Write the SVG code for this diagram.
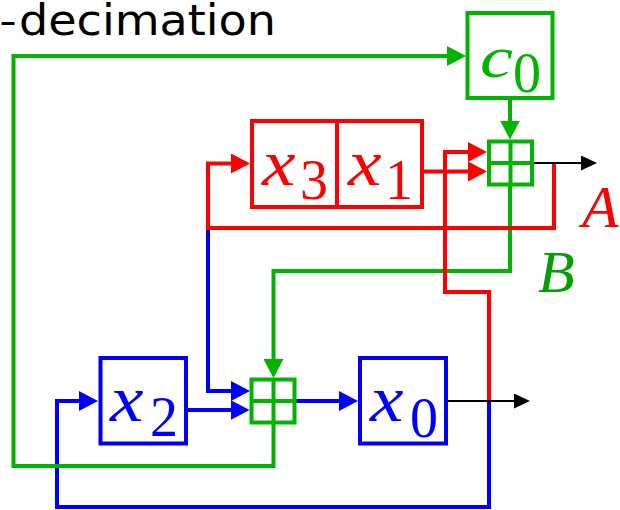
<svg xmlns="http://www.w3.org/2000/svg" width="620" height="510" viewBox="0 0 620 510">
<style>
.box{fill:none;stroke-width:4}
.g{stroke:#00b400}
.r{stroke:#ff0000}
.b{stroke:#0000ff}
.k{stroke:#000000}
.ln{fill:none;stroke-width:4;stroke-linejoin:miter}
.thin{fill:none;stroke-width:2}
.mi{font-family:"Liberation Serif","Times New Roman",serif;font-style:italic;font-size:66px}
.sub{font-family:"Liberation Serif","Times New Roman",serif;font-size:56px}
.lab{font-family:"Liberation Serif","Times New Roman",serif;font-style:italic;font-size:60px}
.title{font-family:"DejaVu Sans",sans-serif;font-size:42px;fill:#000}
</style>
<defs>
<marker id="ag" markerUnits="userSpaceOnUse" viewBox="0 0 19 20" markerWidth="19" markerHeight="20" refX="15" refY="10" orient="auto"><path d="M0,0 L19,10 L0,20 z" fill="#00b400"/></marker>
<marker id="ar" markerUnits="userSpaceOnUse" viewBox="0 0 19 20" markerWidth="19" markerHeight="20" refX="15" refY="10" orient="auto"><path d="M0,0 L19,10 L0,20 z" fill="#ff0000"/></marker>
<marker id="ab" markerUnits="userSpaceOnUse" viewBox="0 0 19 20" markerWidth="19" markerHeight="20" refX="15" refY="10" orient="auto"><path d="M0,0 L19,10 L0,20 z" fill="#0000ff"/></marker>
<marker id="ak" markerUnits="userSpaceOnUse" viewBox="0 0 16 15" markerWidth="16" markerHeight="15" refX="14" refY="7.5" orient="auto"><path d="M0,0 L16,7.5 L0,15 z" fill="#000000"/></marker>
</defs>

<g id="title">
<text class="title" x="0" y="35"><tspan x="0" textLength="16" lengthAdjust="spacingAndGlyphs">–</tspan><tspan x="19" textLength="257" lengthAdjust="spacingAndGlyphs">decimation</tspan></text>
</g>

<g id="connectors">
<!-- blue -->
<path class="ln b" d="M208,228 V391 H246" marker-end="url(#ab)"/>
<path class="ln b" d="M188,410 H245.5" marker-end="url(#ab)"/>
<path class="ln b" d="M296,401 H354" marker-end="url(#ab)"/>
<path class="ln b" d="M489,401 V507 H57 V401 H94" marker-end="url(#ab)"/>
<!-- green -->
<path class="ln g" d="M510,98 V135.5" marker-end="url(#ag)"/>
<path class="ln g" d="M510,185 V271 H273.5 V374" marker-end="url(#ag)"/>
<path class="ln g" d="M273.5,422 V466 H13.5 V56 H462" marker-end="url(#ag)"/>
<!-- red -->
<path class="ln r" d="M424,171.5 H483" marker-end="url(#ar)"/>
<path class="ln r" d="M489,401 V292 H445 V152 H483" marker-end="url(#ar)"/>
<path class="ln r" d="M554,163 V228 H208 V163.5 H246" marker-end="url(#ar)"/>
<!-- black outputs -->
<path class="thin k" d="M448,401 H528" marker-end="url(#ak)"/>
<path class="thin k" d="M534,163 H595" marker-end="url(#ak)"/>
<text class="lab" x="582" y="227" fill="#ff0000">A</text>
<text class="lab" x="538" y="292" fill="#00a000">B</text>
</g>

<g id="c0">
<rect class="box g" x="467.5" y="13" width="85" height="85"/>
<text class="mi" x="480" y="77" fill="#00b400" textLength="33" lengthAdjust="spacingAndGlyphs" style="font-size:60px">c</text>
<text class="sub" x="513" y="92" fill="#00b400">0</text>
</g>

<g id="x3">
<rect class="box r" x="252" y="121" width="85" height="86"/>
<text class="mi" x="262" y="185" fill="#ff0000" textLength="33.5" lengthAdjust="spacingAndGlyphs">x</text>
<text class="sub" x="300" y="199" fill="#ff0000">3</text>
</g>

<g id="x1">
<rect class="box r" x="337" y="121" width="85" height="86"/>
<text class="mi" x="348" y="185" fill="#ff0000" textLength="33.5" lengthAdjust="spacingAndGlyphs">x</text>
<text class="sub" x="385" y="199" fill="#ff0000">1</text>
</g>

<g id="adder_top">
<rect class="box g" x="489" y="141.5" width="43" height="43"/>
<path class="ln g" d="M510.5,141.5 V184.5 M489,163 H532"/>
</g>

<g id="adder_bottom">
<rect class="box g" x="251.5" y="379.5" width="43" height="43"/>
<path class="ln g" d="M273.5,379.5 V422.5 M251.5,401 H294.5"/>
</g>

<g id="x2">
<rect class="box b" x="100.5" y="358" width="85.5" height="85.5"/>
<text class="mi" x="110" y="421" fill="#0000ff" textLength="33.5" lengthAdjust="spacingAndGlyphs">x</text>
<text class="sub" x="150" y="436" fill="#0000ff">2</text>
</g>

<g id="x0">
<rect class="box b" x="360" y="358" width="86" height="85.5"/>
<text class="mi" x="370" y="421" fill="#0000ff" textLength="33.5" lengthAdjust="spacingAndGlyphs">x</text>
<text class="sub" x="410" y="437" fill="#0000ff">0</text>
</g>
</svg>
